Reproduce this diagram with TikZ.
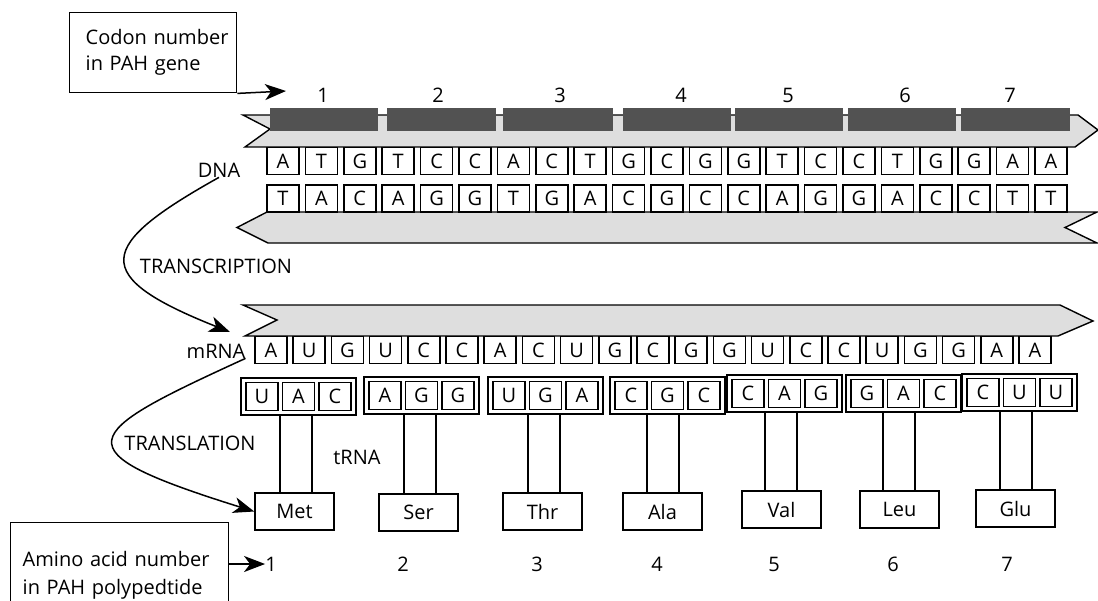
\documentclass[tikz,border=0pt]{standalone}
\usepackage{fontspec}
\setmainfont{Open Sans}
\usetikzlibrary{arrows.meta,calc}
\begin{document}
\begin{tikzpicture}[x=1pt,y=-1pt,
  font=\fontsize{20}{24}\selectfont,
  lab/.style={inner sep=0pt, anchor=center},
  base/.style={draw, line width=1.5pt, minimum width=32pt, minimum height=27pt, inner sep=0pt, fill=white},
  grp/.style={draw, line width=1.5pt, minimum width=115pt, minimum height=37pt, inner sep=0pt, fill=white},
  aa/.style={draw, line width=1.5pt, minimum width=79pt, minimum height=37pt, inner sep=0pt, fill=white},
  ribbon/.style={draw, line width=1.4pt, fill=black!13, line join=miter},
  bar/.style={fill=black!68},
  arr/.style={line width=1.5pt, -{Stealth[length=21pt,width=16pt,inset=6pt]}},
  tbox/.style={draw, line width=1.4pt, align=left, inner xsep=7pt, inner ysep=0pt, anchor=north west},
  stem/.style={line width=1.5pt}
]
\useasboundingbox (0,0) rectangle (1098,600);

% ---------- header box ----------
\node[tbox, text width=153pt, minimum height=80pt, font=\fontsize{20}{26}\selectfont] (codon) at (69,12) {\hspace*{9pt}Codon number\\\hspace*{9pt}in PAH gene};
\coordinate (codtip) at (286,91);
\draw[arr] (codon.south east) -- (codtip);

% codon numbers
\foreach \n/\x in {1/323,2/438,3/560,4/681,5/788,6/905,7/1010}
  \node[lab] (cn\n) at (\x,95) {\n};

% ---------- DNA ribbons ----------
\draw[ribbon] (243,115) -- (1078,115) -- (1098,130) -- (1075,147) -- (245,147) -- (270,129) -- cycle;
\foreach \a/\b in {270/378,387/496,503/613,623/731,735/843,848/956,961/1070}
  \fill[bar] (\a,108) rectangle (\b,131);

\foreach \l [count=\i from 0] in {A,T,G,T,C,C,A,C,T,G,C,G,G,T,C,C,T,G,G,A,A}
  \node[base] (dt\i) at ({283+38.4*\i},161) {\l};

\draw[ribbon] (267,212) -- (1097,212) -- (1065,227.5) -- (1097,243) -- (268,243) -- (237,227.5) -- cycle;
\foreach \l [count=\i from 0] in {T,A,C,A,G,G,T,G,A,C,G,C,C,A,G,G,A,C,C,T,T}
  \node[base] (db\i) at ({283+38.4*\i},198.5) {\l};

\node[lab] (dna) at (219,170) {DNA};

% ---------- mRNA ----------
\draw[ribbon] (243,305) -- (1060,305) -- (1093,321) -- (1058,336) -- (245,336) -- (277,320) -- cycle;
\foreach \l [count=\i from 0] in {A,U,G,U,C,C,A,C,U,G,C,G,G,U,C,C,U,G,G,A,A}
  \node[base] (mr\i) at ({271+38.2*\i},350) {\l};

\node[lab] (mrna) at (216,351) {mRNA};

% ---------- transcription ----------
\node[lab] (transc) at (216,266) {TRANSCRIPTION};
\coordinate (mtip) at (230,332);
\draw[arr] (dna.south) .. controls (96,246) and (89,276) .. (mtip);

% ---------- tRNA groups ----------
\foreach \gx/\gy/\a/\b/\c [count=\i] in {241/378/U/A/C, 364/377/A/G/G, 488/377/U/G/A, 610/377/C/G/C, 727/375/C/A/G, 846/375/G/A/C, 962/374/C/U/U} {
  \node[grp] (g\i) at ({\gx+57.5},{\gy+18.5}) {};
  \node[base, minimum height=28pt] (g\i a) at ($(g\i)+(-36.5,0)$) {\a};
  \node[base, minimum height=28pt] (g\i b) at (g\i) {\b};
  \node[base, minimum height=28pt] (g\i c) at ($(g\i)+(36.5,0)$) {\c};
}

% amino acids
\foreach \nm/\x/\y [count=\i] in {Met/255/493, Ser/379/494, Thr/503/493, Ala/623/493, Val/742/491, Leu/860/491, Glu/976/490}
  \node[aa] (m\i) at ({\x+39.5},{\y+18.5}) {\nm};

% stems
\foreach \i/\d in {1/-2.5,2/-1.5,3/-1.5,4/-4.5,5/-3.5,6/-4.5,7/-3.5} {
  \coordinate (sl\i) at ($(g\i.south)+({\d-16},0)$);
  \coordinate (sr\i) at ($(g\i.south)+({\d+16},0)$);
  \draw[stem] (sl\i) -- (sl\i |- m\i.north);
  \draw[stem] (sr\i) -- (sr\i |- m\i.north);
}

\node[lab] (trna) at (357,457) {tRNA};

% ---------- translation ----------
\node[lab] (transl) at (190,443) {TRANSLATION};
\draw[arr] (mrna.south east) .. controls (78,435) and (58,450) .. (m1.west);

% ---------- amino acid numbers ----------
\node[tbox, inner xsep=12pt, text width=194pt, minimum height=92pt, font=\fontsize{20}{28}\selectfont, text depth=20pt] (amino) at (10,522) {Amino acid number\\in PAH polypedtide};
\foreach \n/\x in {1/271,2/403,3/537,4/657,5/774,6/893,7/1007}
  \node[lab] (n\n) at (\x,564) {\n};
\draw[arr] (amino.east |- n1.west) -- (n1.west);

\end{tikzpicture}
\end{document}
